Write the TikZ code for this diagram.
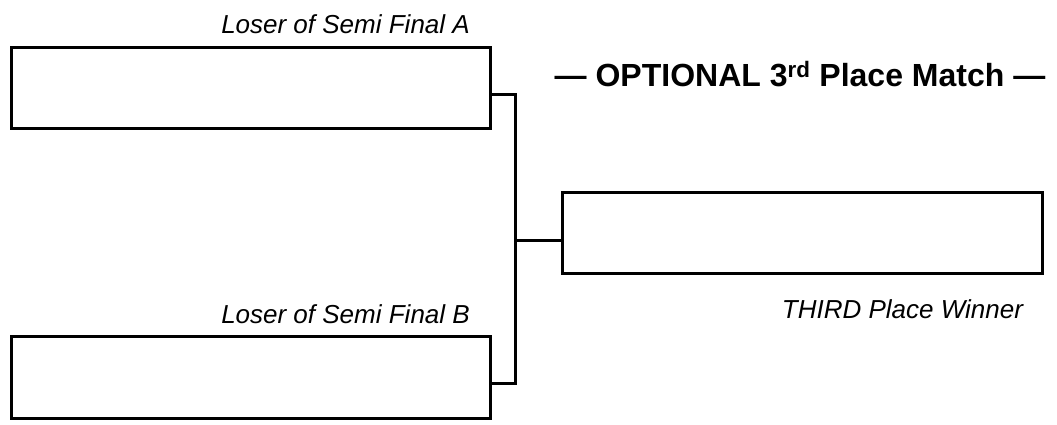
\documentclass[tikz,border=0pt]{standalone}
\usepackage{fontspec}
\setmainfont{Liberation Sans}
\begin{document}
\begin{tikzpicture}[x=1pt,y=-1pt,
  slot/.style={draw=black,line width=3pt,minimum width=479pt,minimum height=81pt,inner sep=0pt},
  lbl/.style={inner sep=0pt,font=\fontsize{26}{30}\selectfont\itshape},
  ttl/.style={inner sep=0pt,font=\fontsize{32}{36}\selectfont\bfseries},
  wire/.style={line width=3pt,line cap=rect}]
\useasboundingbox[fill=white] (0,0) rectangle (1057,425);
\node[slot] (A) at (250.5,88.5) {};
\node[slot,minimum height=82pt] (B) at (250.5,377) {};
\node[slot,minimum width=480pt] (C) at (802,232.5) {};
\coordinate (jA) at (515,95);
\coordinate (jB) at (515,383);
\coordinate (jM) at (515,240);
\draw[wire] (A.east |- jA) -- (jA) -- (jB) -- (B.east |- jB);
\draw[wire] (jM) -- (C.west |- jM);
\node[lbl,anchor=base east] (la) at (470,34) {Loser of Semi Final A};
\node[lbl,anchor=base east] (lb) at (470,323) {Loser of Semi Final B};
\node[lbl,anchor=base] (lc) at (902.5,318) {THIRD Place Winner};
\node[ttl,anchor=base] (t) at (800,87) {— OPTIONAL 3\textsuperscript{rd} Place Match —};
\end{tikzpicture}
\end{document}
